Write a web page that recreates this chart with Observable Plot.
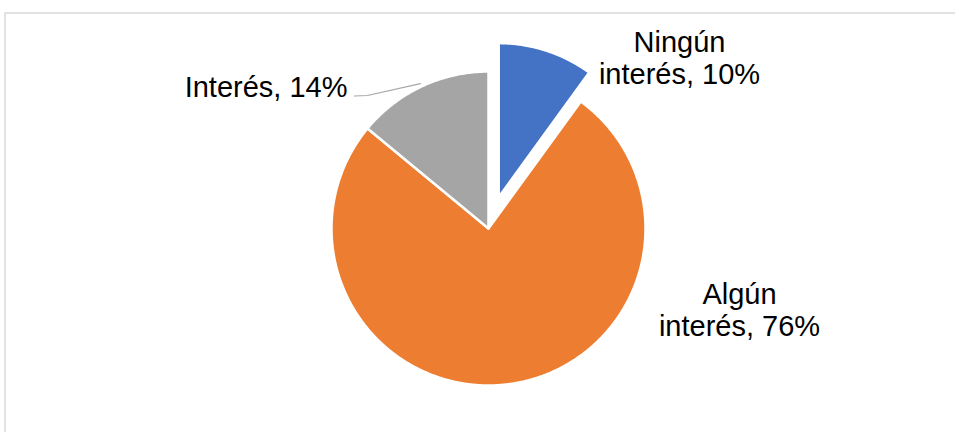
<!DOCTYPE html>
<html>
<head>
<meta charset="utf-8">
<script src="https://cdn.jsdelivr.net/npm/d3@7"></script>
<script src="https://cdn.jsdelivr.net/npm/@observablehq/plot@0.6"></script>
<style>
  html, body { margin: 0; padding: 0; background: #fff; }
  #chart { width: 955px; height: 432px; overflow: hidden; }
</style>
</head>
<body>
<div id="chart"></div>
<script>
// ---- data ----
const categories = ["Ningún interés", "Algún interés", "Interés"];
const values = [10, 76, 14];
const labelTexts = ["Ningún\ninterés, 10%", "Algún\ninterés, 76%", "Interés, 14%"];
const colors = ["#4472C4", "#ED7D31", "#A5A5A5"];
const explodedCategory = "Ningún interés";

// ---- layout (pie units = px, origin at pie centre) ----
const W = 955, H = 432;
const cx = 488, cy = 228;
const R = 157, Rexploded = 154, explodeDist = 33;
// label anchors relative to pie centre [dx, dy (last baseline)], and text anchor
const labelLayout = {
  "Ningún interés": {dx: 191, dy: -145, anchor: "middle"},
  "Algún interés": {dx: 251, dy: 107, anchor: "middle"},
  "Interés": {dx: -141, dy: -132, anchor: "end", leader: true}
};

const rows = categories.map((c, i) => ({cat: c, value: values[i], label: labelTexts[i]}));
const arcs = d3.pie().sort(null).value(d => d.value)(rows);

const slicePts = [];
arcs.forEach(a => {
  const isEx = a.data.cat === explodedCategory;
  const mid = (a.startAngle + a.endAngle) / 2;
  const ox = isEx ? explodeDist * Math.sin(mid) : 0;
  const oy = isEx ? -explodeDist * Math.cos(mid) : 0;
  const r = isEx ? Rexploded : R;
  slicePts.push({cat: a.data.cat, x: ox, y: oy});
  const n = Math.max(4, Math.ceil((a.endAngle - a.startAngle) / (Math.PI / 360)));
  for (let k = 0; k <= n; k++) {
    const t = a.startAngle + (a.endAngle - a.startAngle) * k / n;
    slicePts.push({cat: a.data.cat, x: ox + r * Math.sin(t), y: oy - r * Math.cos(t)});
  }
});

const labels = arcs.map(a => {
  const L = labelLayout[a.data.cat];
  return {cat: a.data.cat, text: a.data.label, x: L.dx, y: L.dy, anchor: L.anchor, leader: L.leader, mid: (a.startAngle + a.endAngle) / 2};
});

const leaderPts = [];
labels.filter(l => l.leader).forEach(l => {
  leaderPts.push({cat: l.cat, x: l.x + 7, y: l.y - 0.5});
  leaderPts.push({cat: l.cat, x: l.x + 20, y: l.y - 1});
  leaderPts.push({cat: l.cat, x: (R + 3) * Math.sin(l.mid), y: -(R + 3) * Math.cos(l.mid)});
});

const font = "Arial, 'Liberation Sans', Helvetica, sans-serif";

const plot = Plot.plot({
  width: W,
  height: H,
  margin: 0,
  x: {domain: [-cx, W - cx], range: [0, W], axis: null},
  y: {domain: [-cy, H - cy], range: [0, H], axis: null},
  color: {domain: categories, range: colors},
  style: {fontFamily: font, background: "white"},
  marks: [
    Plot.frame({stroke: "#d9d9d9", strokeWidth: 1.5, insetLeft: 4.5, insetTop: 12.5, insetRight: -10, insetBottom: -10}),
    Plot.line(slicePts, {x: "x", y: "y", z: "cat", fill: "cat", stroke: "white", strokeWidth: 2.5, curve: "linear-closed"}),
    Plot.line(leaderPts, {x: "x", y: "y", z: "cat", stroke: "#a6a6a6", strokeWidth: 1.25}),
    Plot.text(labels.filter(l => l.anchor === "middle"), {x: "x", y: "y", text: "text", textAnchor: "middle", lineAnchor: "bottom", lineHeight: 1.09, fontSize: 29, fill: "#000"}),
    Plot.text(labels.filter(l => l.anchor === "end"), {x: "x", y: "y", text: "text", textAnchor: "end", lineAnchor: "bottom", lineHeight: 1.09, fontSize: 29, fill: "#000"})
  ]
});
document.getElementById("chart").appendChild(plot);
</script>
</body>
</html>
